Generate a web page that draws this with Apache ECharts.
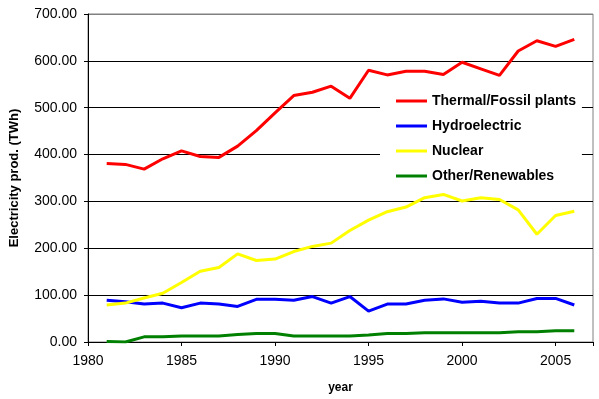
<!DOCTYPE html>
<html>
<head>
	<meta charset="UTF-8">
	<title></title>
	<style>
		body { margin: 0; background: #fff; }
		#chart1 { width: 599px; height: 399px; }
	</style>
	<script src="https://cdn.jsdelivr.net/npm/echarts@6/dist/echarts.min.js"></script>
</head>
<body>
	<div id="chart1"></div>
	<script>
		var years = [1981, 1982, 1983, 1984, 1985, 1986, 1987, 1988, 1989, 1990, 1991, 1992, 1993,
			1994, 1995, 1996, 1997, 1998, 1999, 2000, 2001, 2002, 2003, 2004, 2005, 2006];
		var thermal = [381, 379, 369, 391, 408, 396, 394, 418, 451, 489, 526, 533, 546,
			520, 580, 570, 578, 578, 571, 597, 583, 569, 621, 643, 631, 646];
		var hydro = [89, 86, 81, 83, 73, 83, 81, 76, 91, 91, 89, 97, 83,
			97, 66, 81, 81, 89, 92, 85, 87, 83, 83, 93, 93, 79];
		var nuclear = [79, 83, 94, 104, 127, 151, 159, 188, 174, 177, 193, 204, 211,
			238, 260, 278, 288, 308, 315, 301, 308, 304, 282, 230, 270, 279];
		var other = [1, 0, 11, 11, 13, 13, 13, 16, 18, 18, 13, 13, 13,
			13, 15, 18, 18, 20, 20, 20, 20, 20, 22, 22, 24, 24];

		var seriesNames = ['Thermal/Fossil plants', 'Hydroelectric', 'Nuclear', 'Other/Renewables'];
		var seriesColors = ['#ff0000', '#0000ff', '#ffff00', '#008000'];
		var seriesData = [thermal, hydro, nuclear, other];

		function pairs(values) {
			return years.map(function (y, i) { return [y, values[i]]; });
		}

		var font = 'Liberation Sans, Arial';

		var myChart = echarts.init(document.getElementById('chart1'));
		myChart.setOption({
			animation: false,
			grid: {
				left: 84, top: 14, right: 6, bottom: 54,
				show: true, borderColor: '#808080', borderWidth: 1
			},
			legend: {
				orient: 'vertical',
				left: 380, top: 86,
				backgroundColor: '#fff',
				padding: [8, 6, 7, 16],
				itemWidth: 31, itemHeight: 3,
				itemGap: 11,
				icon: 'rect',
				textStyle: { fontFamily: font, fontSize: 14, fontWeight: 'bold', color: '#000' },
				data: seriesNames
			},
			xAxis: {
				type: 'value',
				min: 1980, max: 2007, interval: 5,
				name: 'year',
				nameLocation: 'middle',
				nameGap: 40,
				nameTextStyle: { fontFamily: font, fontSize: 12, fontWeight: 'bold', color: '#000' },
				axisLine: { lineStyle: { color: '#000' } },
				axisTick: { lineStyle: { color: '#000' }, length: 4 },
				splitLine: { show: false },
				axisLabel: {
					fontFamily: font, fontSize: 14, color: '#000', margin: 12,
					formatter: function (v) { return v % 5 === 0 ? String(v) : ''; }
				}
			},
			yAxis: {
				type: 'value',
				min: 0, max: 700, interval: 100,
				name: 'Electricity prod. (TWh)',
				nameLocation: 'middle',
				nameGap: 67,
				nameTextStyle: { fontFamily: font, fontSize: 13, fontWeight: 'bold', color: '#000' },
				axisLine: { show: true, lineStyle: { color: '#000' } },
				axisTick: { show: true, lineStyle: { color: '#000' }, length: 4 },
				splitLine: { lineStyle: { color: ['#000', '#000', '#000', '#000', '#000', '#000', '#000', '#808080'] } },
				axisLabel: {
					fontFamily: font, fontSize: 14, color: '#000', margin: 11,
					formatter: function (v) { return v.toFixed(2); }
				}
			},
			series: seriesNames.map(function (name, i) {
				return {
					name: name,
					type: 'line',
					data: pairs(seriesData[i]),
					showSymbol: false,
					symbol: 'none',
					color: seriesColors[i],
					lineStyle: { width: 3, color: seriesColors[i] }
				};
			})
		});
	</script>
</body>
</html>
